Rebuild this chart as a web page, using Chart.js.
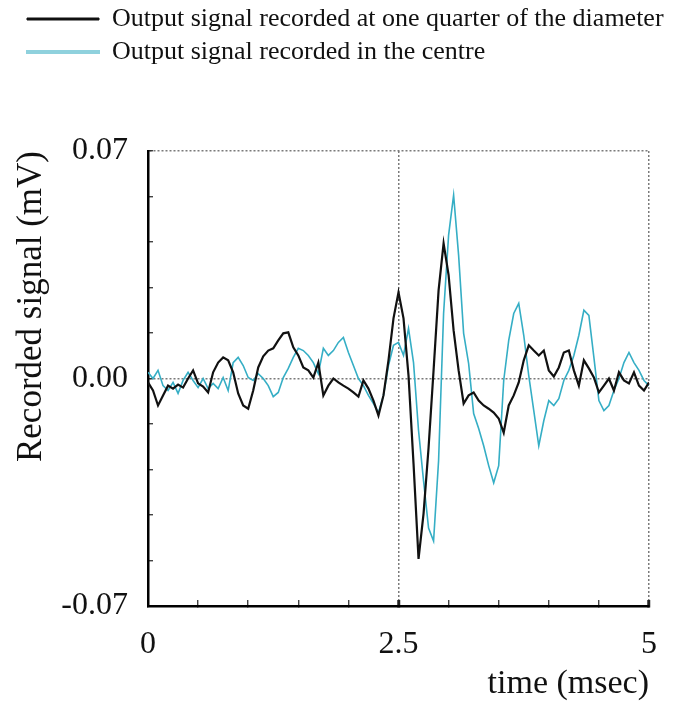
<!DOCTYPE html>
<html>
<head>
<meta charset="utf-8">
<script src="https://cdn.jsdelivr.net/npm/chart.js@4.4.1/dist/chart.umd.min.js"></script>
<style>
  body { margin: 0; background: #fff; }
  #wrap { width: 675px; height: 701px; }
</style>
</head>
<body>
<div id="wrap"><canvas id="signalChart" width="675" height="701"></canvas></div>
<script>
// sampling interval of the traces (msec)
var sampleStep = 0.05;

var seriesNames = [
	"Output signal recorded at one quarter of the diameter",
	"Output signal recorded in the centre"
];

// recorded signal (mV), one value every sampleStep from 0 to 5 msec
var quarterSignal = [
	-0.0012, -0.0037, -0.0083, -0.0052, -0.0022, -0.0031, -0.0019, -0.0028, 0.0000, 0.0025,
	-0.0015, -0.0025, -0.0043, 0.0019, 0.0049, 0.0065, 0.0056, 0.0019, -0.0046, -0.0083,
	-0.0093, -0.0037, 0.0034, 0.0068, 0.0086, 0.0093, 0.0117, 0.0139, 0.0142, 0.0096,
	0.0071, 0.0034, 0.0025, 0.0003, 0.0049, -0.0052, -0.0022, 0.0000, -0.0012, -0.0022,
	-0.0031, -0.0043, -0.0056, -0.0006, -0.0031, -0.0068, -0.0114, -0.0052, 0.0056, 0.0185,
	0.0265, 0.0185, 0.0009, -0.0262, -0.0555, -0.0416, -0.0213, 0.0025, 0.0271, 0.0416,
	0.0318, 0.0148, 0.0025, -0.0077, -0.0052, -0.0043, -0.0068, -0.0083, -0.0093, -0.0105,
	-0.0123, -0.0167, -0.0083, -0.0052, -0.0012, 0.0056, 0.0102, 0.0086, 0.0071, 0.0086,
	0.0025, 0.0006, 0.0034, 0.0080, 0.0086, 0.0025, -0.0022, 0.0056, 0.0031, 0.0003,
	-0.0043, -0.0022, 0.0000, -0.0037, 0.0019, -0.0006, -0.0015, 0.0019, -0.0022, -0.0037, -0.0012
];

var centreSignal = [
	0.0019, 0.0000, 0.0025, -0.0022, -0.0037, -0.0012, -0.0046, -0.0006, 0.0019, -0.0006,
	-0.0028, 0.0000, -0.0031, -0.0015, -0.0031, 0.0003, -0.0037, 0.0049, 0.0065, 0.0040,
	0.0003, -0.0006, 0.0015, 0.0000, -0.0022, -0.0056, -0.0043, 0.0003, 0.0031, 0.0065,
	0.0093, 0.0086, 0.0071, 0.0049, 0.0015, 0.0093, 0.0071, 0.0086, 0.0111, 0.0126,
	0.0080, 0.0040, 0.0000, -0.0022, -0.0052, -0.0077, -0.0105, -0.0052, 0.0040, 0.0102,
	0.0111, 0.0071, 0.0154, 0.0049, -0.0160, -0.0315, -0.0460, -0.0500, -0.0253, 0.0200,
	0.0441, 0.0564, 0.0379, 0.0139, 0.0046, -0.0108, -0.0154, -0.0207, -0.0268, -0.0321,
	-0.0268, -0.0006, 0.0117, 0.0200, 0.0231, 0.0133, 0.0009, -0.0099, -0.0207, -0.0130,
	-0.0068, -0.0083, -0.0062, -0.0006, 0.0025, 0.0071, 0.0133, 0.0210, 0.0194, 0.0065,
	-0.0068, -0.0099, -0.0083, -0.0037, 0.0000, 0.0049, 0.0080, 0.0049, 0.0025, -0.0006, -0.0022
];

// labelled ticks
var xTickLabels = { 0: "0", 2.5: "2.5", 5: "5" };
var yTickLabels = { "-0.07": "-0.07", "0": "0.00", "0.07": "0.07" };

var toPoints = function(values){
	return values.map(function(v, i){
		return { x: Math.round(i * sampleStep * 100) / 100, y: v };
	});
};

var serif = "'Liberation Serif', 'Times New Roman', serif";
var dotted = "#7a7a7a";
var clear = "rgba(0,0,0,0)";

var chart = new Chart(document.getElementById("signalChart"), {
	type: 'line',
	data: {
		datasets: [{
			label: seriesNames[0],
			data: toPoints(quarterSignal),
			borderColor: '#111111',
			backgroundColor: '#111111',
			borderWidth: 2.2
		}, {
			label: seriesNames[1],
			data: toPoints(centreSignal),
			borderColor: '#35aec5',
			backgroundColor: '#8fd1dd',
			borderWidth: 1.6
		}]
	},
	options: {
		responsive: false,
		animation: false,
		layout: { padding: { left: 20, right: 9, top: -1, bottom: 0 } },
		elements: { point: { radius: 0 }, line: { tension: 0 } },
		plugins: {
			tooltip: { enabled: false },
			title: {
				display: true,
				text: '',
				weight: 500,
				font: { size: 1, lineHeight: 1 },
				padding: { top: 75, bottom: 0 }
			},
			legend: {
				position: 'top',
				align: 'start',
				labels: {
					boxWidth: 72,
					boxHeight: 2,
					padding: 7,
					color: '#111',
					font: { family: serif, size: 26 },
					generateLabels: function(c){
						var items = Chart.defaults.plugins.legend.labels.generateLabels(c);
						items.forEach(function(it, i){
							var col = c.data.datasets[i].backgroundColor;
							it.fillStyle = col;
							it.strokeStyle = col;
							it.lineWidth = i === 0 ? 1 : 2;
						});
						return items;
					}
				}
			}
		},
		scales: {
			x: {
				type: 'linear',
				min: 0,
				max: 5,
				afterFit: function(scale){ scale.height = 95; },
				ticks: {
					stepSize: 0.5,
					autoSkip: false,
					maxRotation: 0,
					padding: 18,
					color: '#111',
					font: { family: serif, size: 32, lineHeight: 1.69 },
					callback: function(v){ return xTickLabels[v] !== undefined ? xTickLabels[v] : ''; }
				},
				grid: {
					color: function(ctx){
						var v = ctx.tick && ctx.tick.value;
						return (v === 2.5 || v === 5) ? dotted : clear;
					},
					lineWidth: 1.5,
					tickLength: -6,
					tickColor: '#222',
					tickWidth: function(ctx){
						var v = ctx.tick && ctx.tick.value;
						return (v === 2.5 || v === 5) ? 3 : 1.2;
					}
				},
				border: { display: true, color: '#000', width: 2.5, dash: [2, 2] },
				title: {
					display: true,
					text: 'time (msec)',
					align: 'end',
					color: '#111',
					font: { family: serif, size: 34, lineHeight: 1 },
					padding: { top: 0, bottom: 0 }
				}
			},
			y: {
				min: -0.07,
				max: 0.07,
				afterFit: function(scale){ scale.width = 128; },
				ticks: {
					stepSize: 0.014,
					autoSkip: false,
					padding: 25,
					color: '#111',
					font: { family: serif, size: 32 },
					callback: function(v){
						var k = String(Math.round(v * 1000) / 1000);
						return yTickLabels[k] !== undefined ? yTickLabels[k] : '';
					}
				},
				grid: {
					color: function(ctx){
						var v = ctx.tick && ctx.tick.value;
						return (Math.abs(v) < 1e-9 || Math.abs(v - 0.07) < 1e-9) ? dotted : clear;
					},
					lineWidth: 1.5,
					tickLength: -5,
					tickColor: '#222',
					tickWidth: 1.2
				},
				border: { display: true, color: '#000', width: 2.5, dash: [2, 2] },
				title: {
					display: true,
					text: 'Recorded signal (mV)',
					align: 'end',
					color: '#111',
					font: { family: serif, size: 35, lineHeight: 0.65 },
					padding: { top: 0, bottom: 0 }
				}
			}
		}
	}
});
</script>
</body>
</html>
